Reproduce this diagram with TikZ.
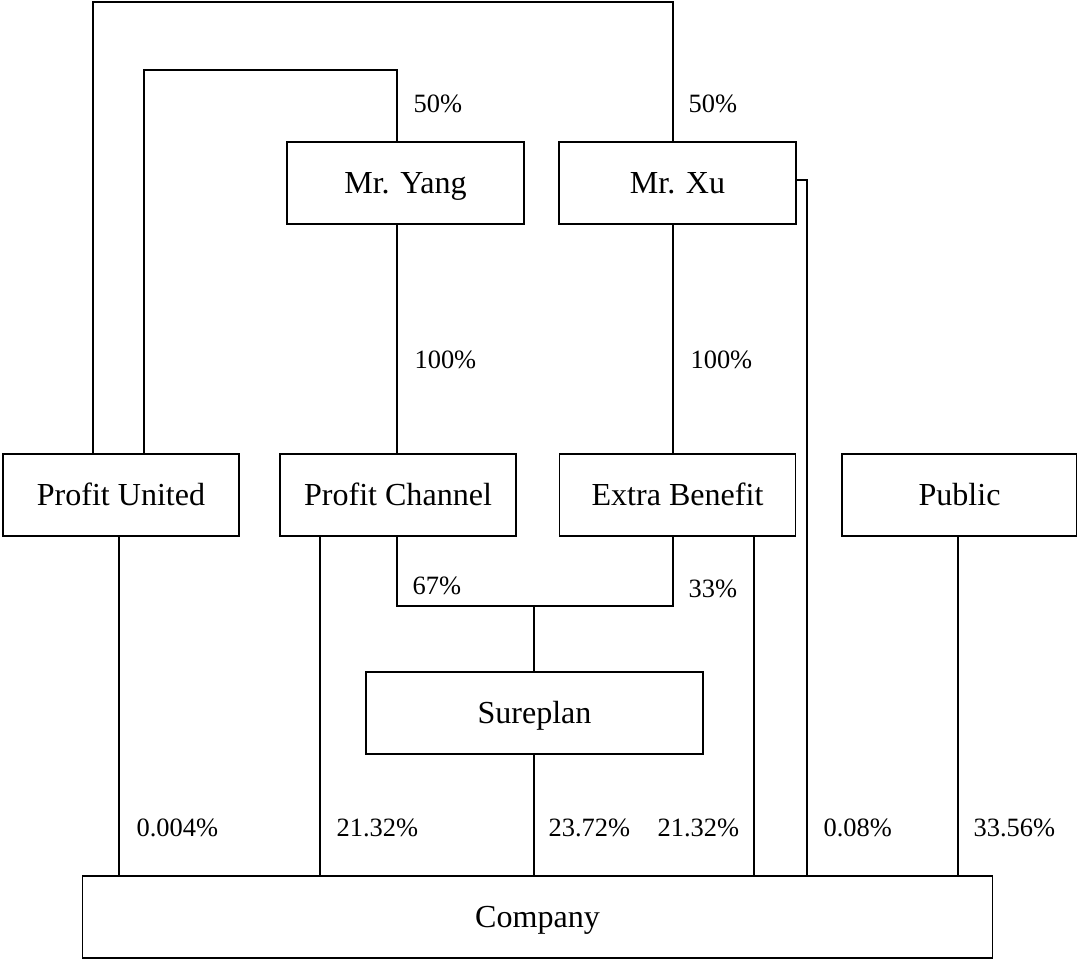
\documentclass[tikz,border=0pt]{standalone}
\usepackage{fontspec}
\setmainfont{Liberation Serif}
\usetikzlibrary{calc}
\tikzset{
  every picture/.style={line width=0.8pt},
  holder/.style={draw, inner sep=0pt, minimum height=2.05cm, text height=17pt, text depth=2pt,
    font=\fontsize{22.8}{27}\selectfont},
  pct/.style={anchor=west, inner sep=0pt, font=\fontsize{18.8}{22}\selectfont},
}
\begin{document}
\begin{tikzpicture}[x=0.025cm, y=-0.025cm,
  person/.style={holder, minimum width=5.925cm},
  firm/.style={holder, minimum width=5.9cm}]
  \useasboundingbox (0,0) rectangle (1077,960);
  % owners
  \node[person] (yang) at (405.5,183) {Mr. Yang};
  \node[person] (xu) at (677.5,183) {Mr. Xu};
  % holding firms
  \node[firm] (pu) at (121,495) {Profit United};
  \node[firm] (pc) at (398,495) {Profit Channel};
  \node[firm] (eb) at (677.5,495) {Extra Benefit};
  \node[firm, minimum width=5.875cm] (pub) at (959.5,495) {Public};
  \node[holder, minimum width=8.425cm] (sp) at (534.5,713) {Sureplan};
  \node[holder, minimum width=22.725cm] (co) at (537.5,917) {Company};
  % bus lines
  \coordinate (rimout) at (380,2);
  \coordinate (rimin) at (270,70);
  \coordinate (split) at (534,606);
  \path (93,0) coordinate (xa) (144,0) coordinate (xb) (397,0) coordinate (xc)
        (673,0) coordinate (xd) (807,0) coordinate (xe);
  \draw (xa |- pu.north) |- (rimout) -| (xd |- xu.north);
  \draw (xb |- pu.north) |- (rimin) -| (xc |- yang.north);
  \draw (xc |- yang.south) -- (xc |- pc.north);
  \draw (xd |- xu.south) -- (xd |- eb.north);
  \draw (xc |- pc.south) |- (split) -| (xd |- eb.south);
  \draw (split) -- (split |- sp.north);
  \draw ($(xu.east)+(0,-3)$) -| (xe |- co.north);
  \foreach \src/\x in {pu/119, pc/320, sp/534, eb/754, pub/958} {
    \path (\x,0) coordinate (t);
    \draw (t |- \src.south) -- (t |- co.north);
  }
  % shares
  \node[pct] (sy) at (413,104) {50\%};
  \node[pct] (sx) at (688,104) {50\%};
  \node[pct] (spc) at (414,360) {100\%};
  \node[pct] (seb) at (690,360) {100\%};
  \node[pct] (s67) at (412,586) {67\%};
  \node[pct] (s33) at (688,589) {33\%};
  \node[pct] (cpu) at (136,828) {0.004\%};
  \node[pct] (cpc) at (336,828) {21.32\%};
  \node[pct] (csp) at (548,828) {23.72\%};
  \node[pct] (ceb) at (657,828) {21.32\%};
  \node[pct] (cxu) at (823,828) {0.08\%};
  \node[pct] (cpub) at (973,828) {33.56\%};
\end{tikzpicture}
\end{document}
